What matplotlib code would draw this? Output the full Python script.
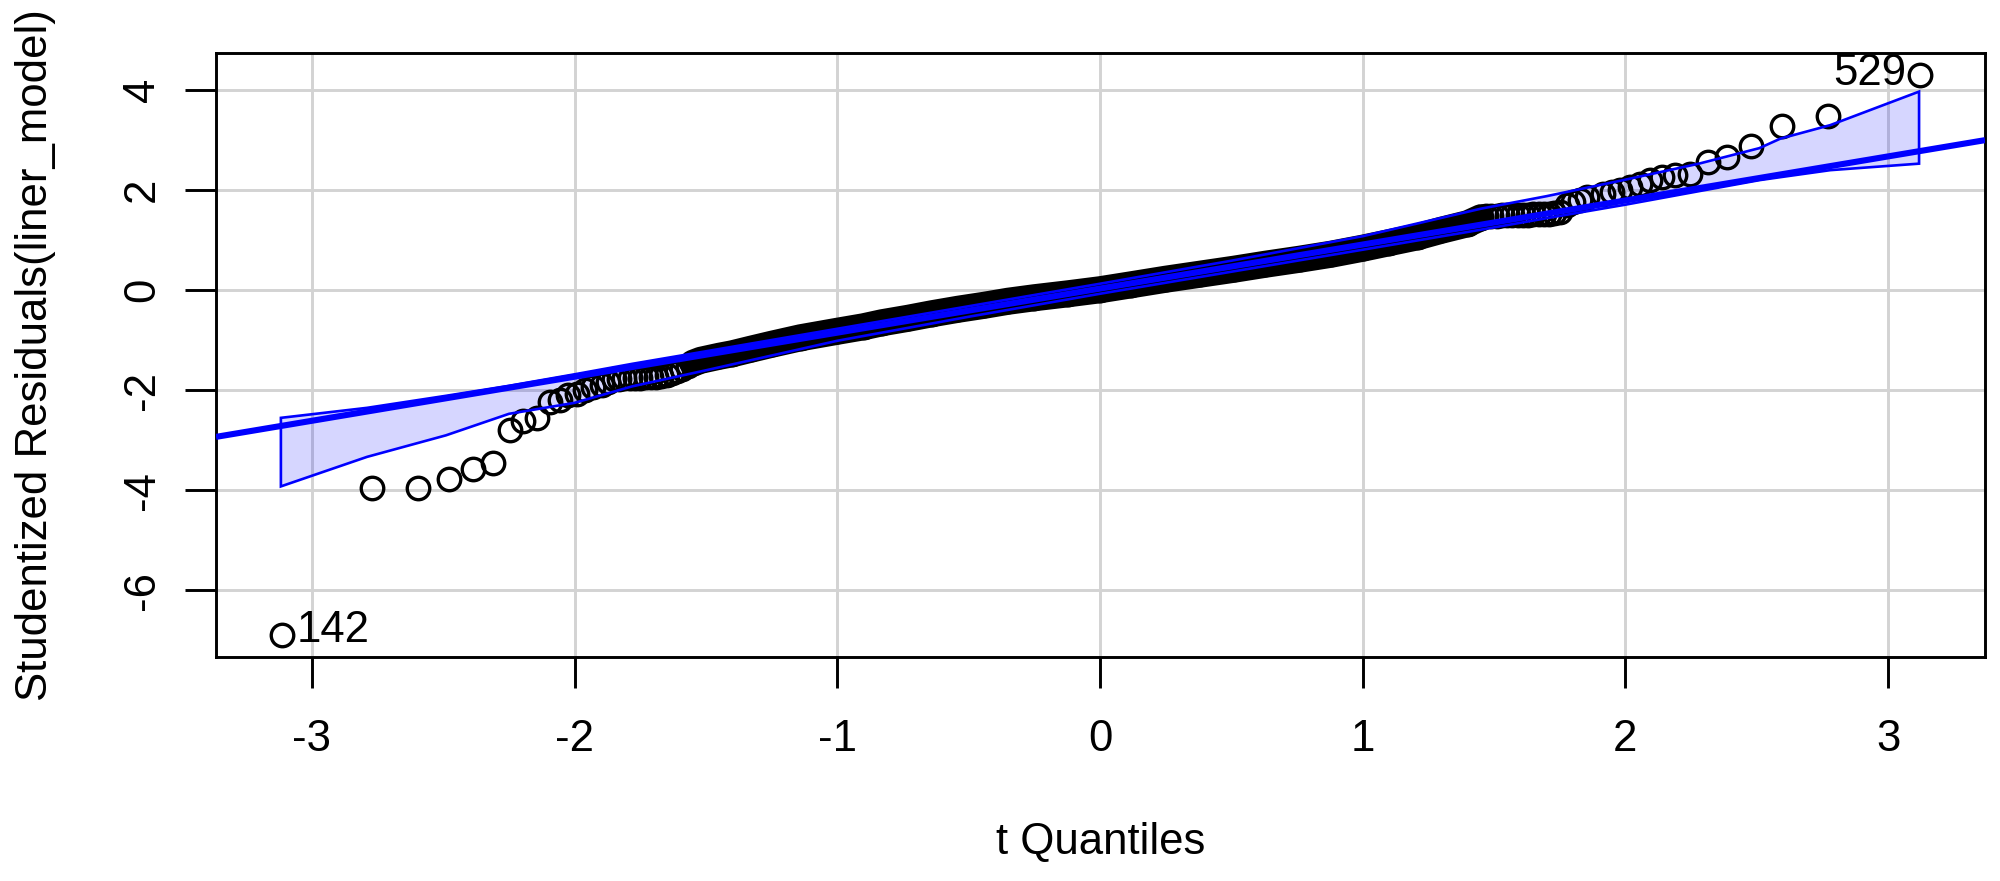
import matplotlib.pyplot as plt
import numpy as np

plt.rcParams['font.family'] = ['Liberation Sans', 'DejaVu Sans']

# t quantiles / studentized residuals
# tails: individual points
tail_x = [-3.115, -2.77, -2.595, -2.477, -2.386, -2.31, -2.246, -2.195, -2.144,
          -2.094, -2.056, -2.024, -1.992, -1.96, -1.929, -1.897, -1.872,
          -1.85, -1.83, -1.81, -1.79, -1.77, -1.75, -1.73, -1.71, -1.69,
          -1.67, -1.65, -1.63, -1.61, -1.59, -1.57,
          1.47, 1.49, 1.51, 1.53, 1.55, 1.57, 1.59, 1.61, 1.63, 1.65, 1.67,
          1.69, 1.71, 1.73, 1.75,
          1.776, 1.80, 1.827, 1.853, 1.916, 1.948, 1.979, 2.018, 2.056,
          2.094, 2.138, 2.189, 2.246, 2.316, 2.386, 2.48, 2.598, 2.772, 3.121]
tail_y = [-6.88, -3.95, -3.95, -3.78, -3.57, -3.45, -2.80, -2.62, -2.55,
          -2.23, -2.20, -2.10, -2.07, -2.00, -1.93, -1.90, -1.83,
          -1.78, -1.77, -1.76, -1.76, -1.75, -1.75, -1.74, -1.74, -1.73,
          -1.72, -1.70, -1.66, -1.62, -1.58, -1.52,
          1.48, 1.49, 1.49, 1.50, 1.50, 1.50, 1.51, 1.51, 1.51, 1.52, 1.52,
          1.52, 1.53, 1.54, 1.56,
          1.70, 1.76, 1.80, 1.87, 1.93, 1.97, 2.01, 2.07, 2.13,
          2.20, 2.27, 2.30, 2.33, 2.56, 2.67, 2.88, 3.28, 3.48, 4.30]

# dense middle: centre of the solid band of overlapping points
band_x = [-1.55, -1.52, -1.45, -1.40, -1.33, -1.25, -1.14, -1.00, -0.90, -0.83,
          -0.73, -0.64, -0.54, -0.44, -0.35, -0.25, -0.12, 0.0, 0.12, 0.25,
          0.38, 0.51, 0.63, 0.76, 0.88, 1.00, 1.10, 1.21, 1.30, 1.40, 1.45]
band_y = [-1.46, -1.40, -1.32, -1.27, -1.18, -1.08, -0.95, -0.82, -0.73, -0.65,
          -0.56, -0.47, -0.38, -0.30, -0.22, -0.15, -0.07, 0.01, 0.11, 0.22,
          0.32, 0.42, 0.52, 0.62, 0.72, 0.84, 0.95, 1.07, 1.20, 1.33, 1.45]

# reference line
line_icpt = 0.033
line_slope = 0.8806

# pointwise confidence envelope
env_x = [-3.118, -2.79, -2.49, -2.25, -2.0, -1.78, -1.5, -1.0, -0.5, 0.0,
         0.5, 1.0, 1.45, 1.7, 2.0, 2.28, 2.51, 2.59, 2.78, 3.118]
env_upper = [-2.55, -2.35, -2.11, -1.91, -1.68, -1.47, -1.22, -0.77, -0.32, 0.13,
             0.59, 1.08, 1.63, 1.88, 2.21, 2.53, 2.84, 3.03, 3.30, 3.97]
env_lower = [-3.92, -3.33, -2.90, -2.47, -2.25, -1.92, -1.60, -1.01, -0.53, -0.07,
             0.37, 0.81, 1.21, 1.44, 1.71, 1.98, 2.20, 2.26, 2.40, 2.53]

labels = [("142", -3.115, -6.88), ("529", 3.121, 4.30)]

xticks = [-3, -2, -1, 0, 1, 2, 3]
yticks = [-6, -4, -2, 0, 2, 4]

fs = 31.5

fig = plt.figure(figsize=(20, 8.81), dpi=100)
ax = fig.add_axes([0.108, 0.2548, 0.8845, 0.6853])

ax.set_xlim(-3.365, 3.369)
ax.set_ylim(-7.32, 4.746)

for t in xticks:
    ax.axvline(t, color='#d3d3d3', lw=2.1, zorder=0)
for t in yticks:
    ax.axhline(t, color='#d3d3d3', lw=2.1, zorder=0)

# envelope fill under the points, its outline over them
poly_x = env_x + env_x[::-1]
poly_y = env_upper + env_lower[::-1]
ax.fill(poly_x, poly_y, facecolor=(0, 0, 1, 0.16), edgecolor='none', zorder=1)
ax.fill(poly_x, poly_y, facecolor='none', edgecolor='#0000ff', lw=1.9, zorder=3)

ms, mew = 16.2, 2.4
ax.plot(tail_x, tail_y, 'o', ms=ms, mfc='none', mec='black', mew=mew, zorder=2)
ax.plot(band_x, band_y, '-', color='black', lw=19.5, solid_capstyle='round', zorder=2)
ax.plot(band_x, band_y, 'o', ms=ms, mfc='none', mec='black', mew=mew, zorder=2)

xl = np.array(ax.get_xlim())
ax.plot(xl, line_icpt + line_slope * xl, color='#0000ff', lw=4.4, zorder=4,
        solid_capstyle='butt')

for txt, lx, ly in labels:
    if lx < 0:
        ax.annotate(txt, (lx, ly), xytext=(11, 3), textcoords='offset points',
                    ha='left', va='center', fontsize=fs)
    else:
        ax.annotate(txt, (lx, ly), xytext=(-10, 1), textcoords='offset points',
                    ha='right', va='center', fontsize=fs)

ax.set_xticks(xticks)
ax.set_xticklabels([str(t) for t in xticks])
ax.set_yticks(yticks)
ax.set_yticklabels([str(t) for t in yticks], rotation=90, va='center')
ax.tick_params(axis='both', length=22, width=2.1, labelsize=fs, color='black')
ax.tick_params(axis='x', pad=23)
ax.tick_params(axis='y', pad=16)
for s in ax.spines.values():
    s.set_linewidth(2.1)

ax.set_xlabel("t Quantiles", fontsize=fs)
ax.set_ylabel("Studentized Residuals(liner_model)", fontsize=fs)
ax.xaxis.set_label_coords(0.5, -0.308)
ax.yaxis.set_label_coords(-0.102, 0.5)
ax.xaxis.label.set_va('center')
ax.yaxis.label.set_va('center')

fig.savefig("out.png", dpi=100)
